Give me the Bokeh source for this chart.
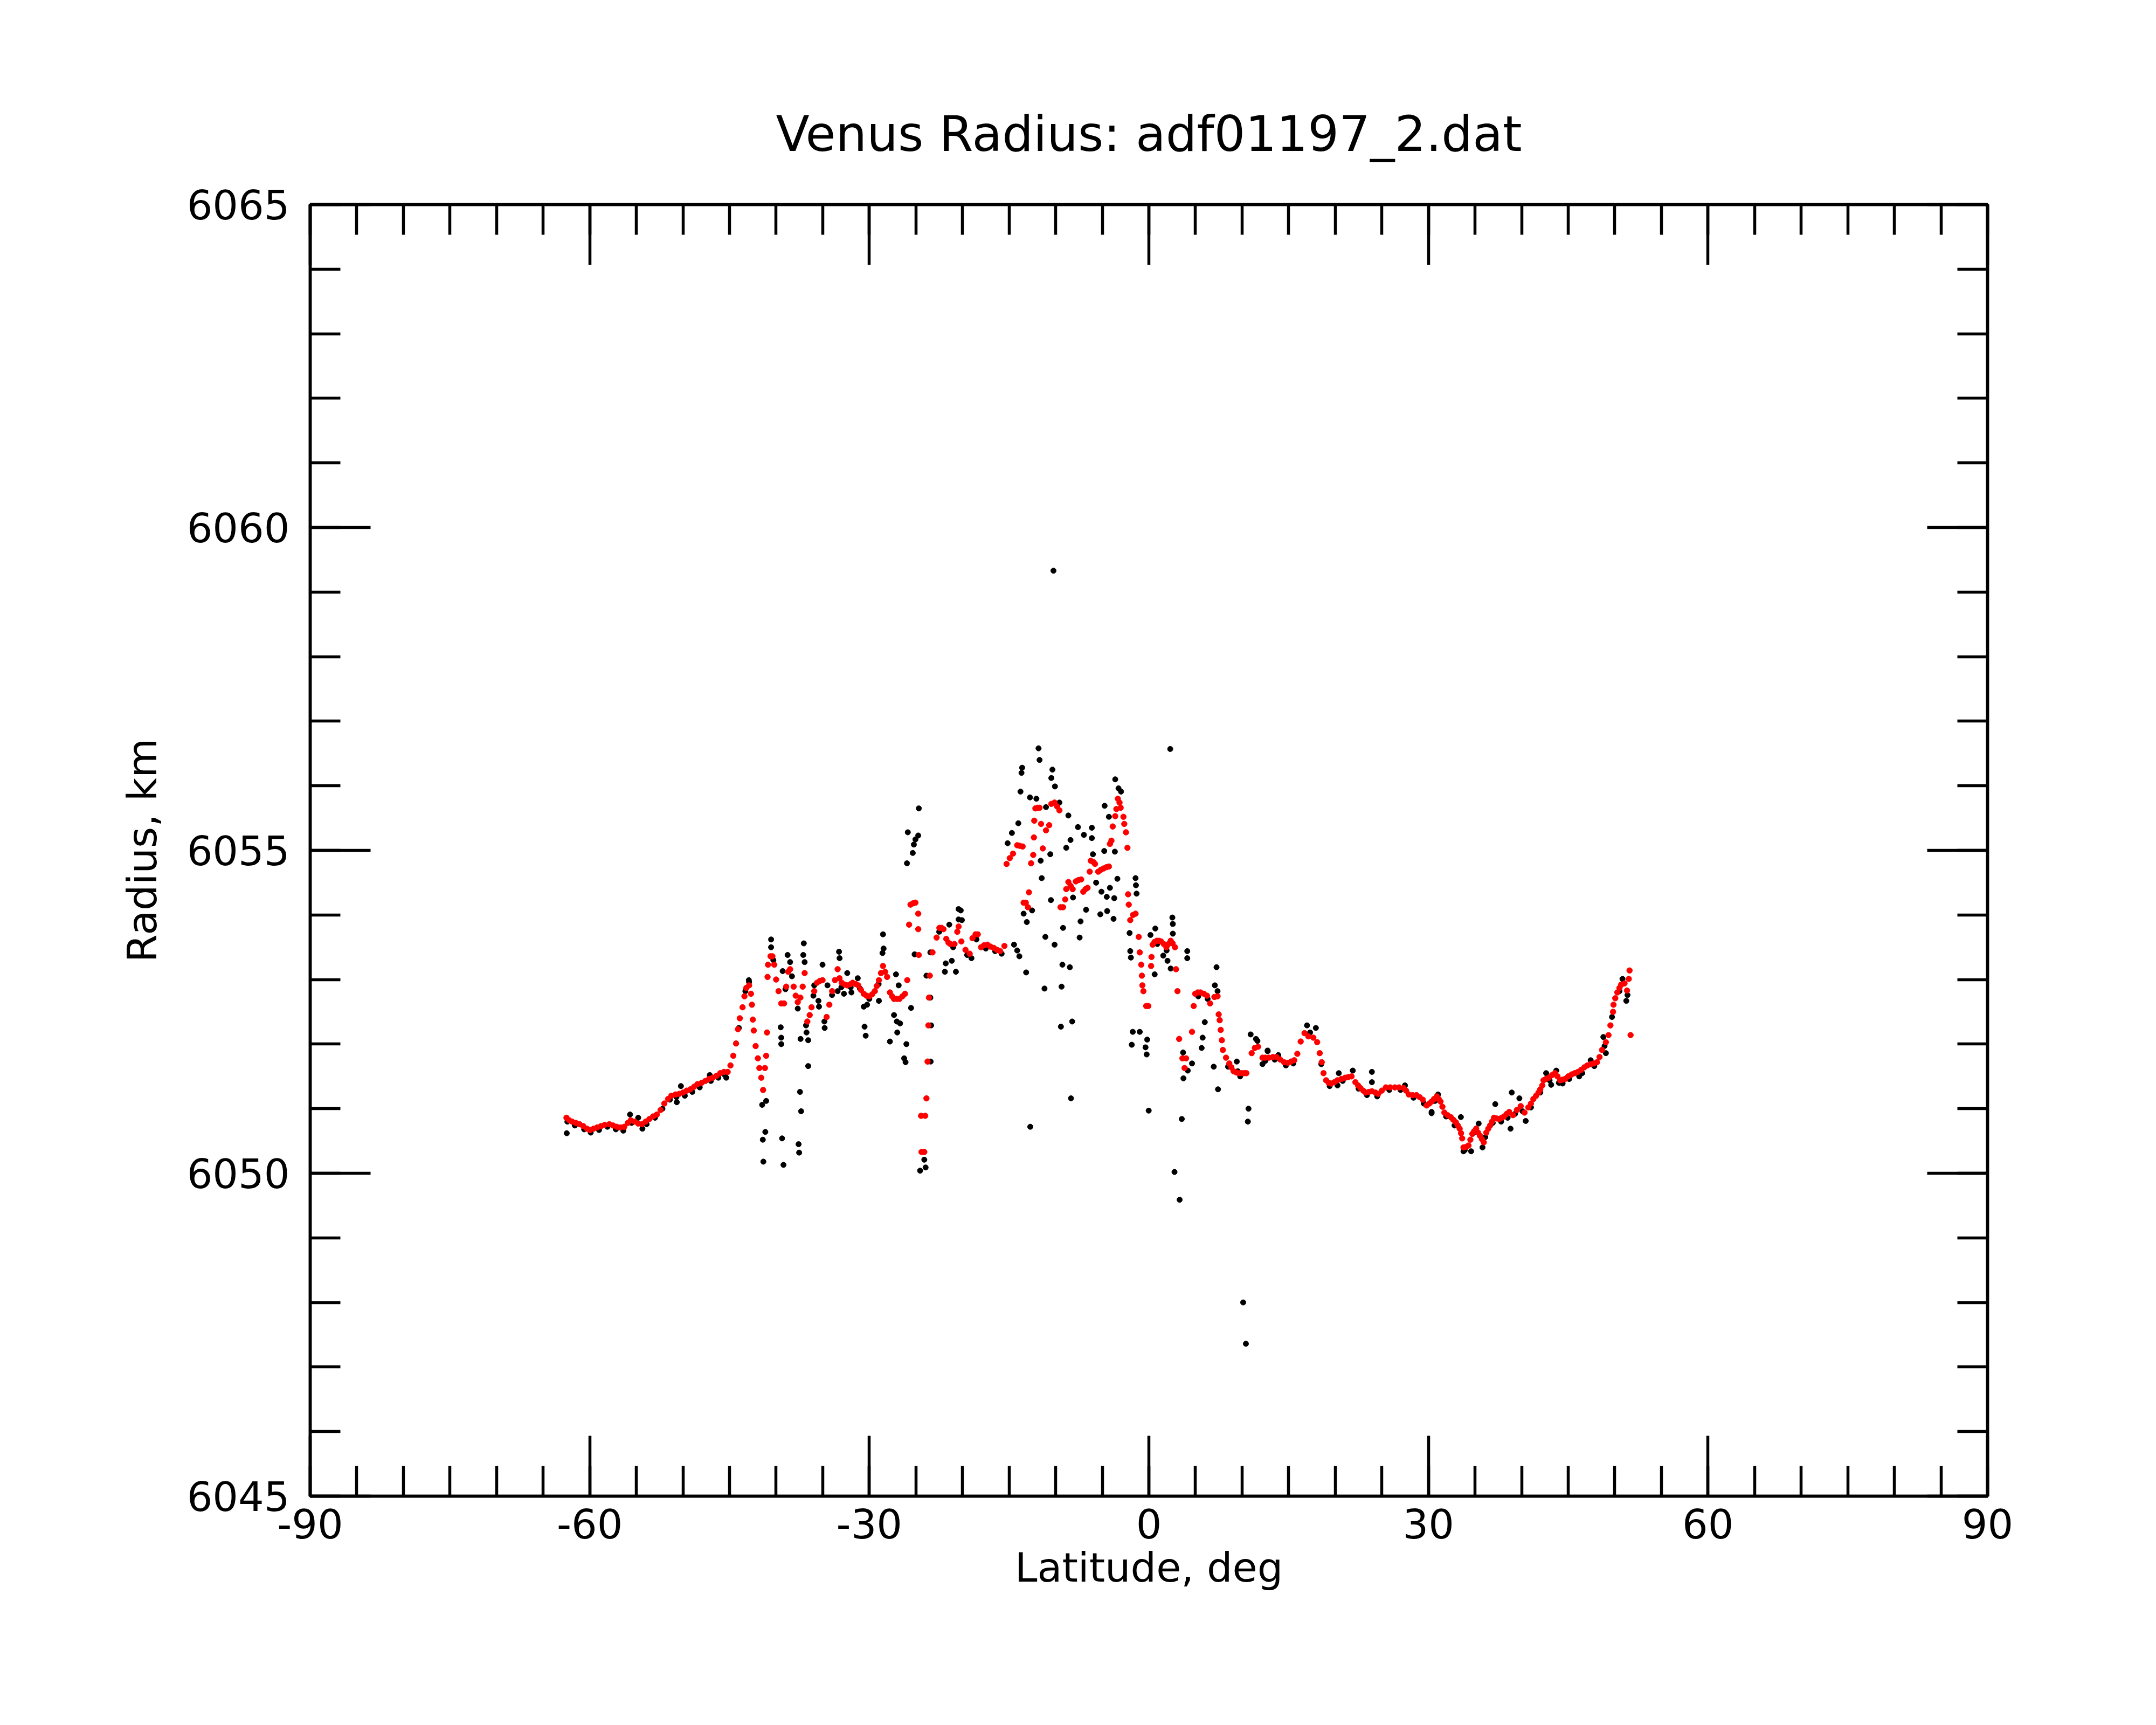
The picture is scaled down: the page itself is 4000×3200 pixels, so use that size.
from bokeh.plotting import figure
from bokeh.models import Range1d, LinearAxis, FixedTicker, CustomLabelingPolicy
from bokeh.embed import file_html
from bokeh.resources import INLINE

# ---------------- data ----------------
title_text = "Venus Radius: adf01197_2.dat"
x_label = "Latitude, deg"
y_label = "Radius, km"

x_major = [-90, -60, -30, 0, 30, 60, 90]
x_major_labels = ["-90", "-60", "-30", "0", "30", "60", "90"]
x_minor = [v for v in range(-90, 91, 5)]
y_major = [6045, 6050, 6055, 6060, 6065]
y_major_labels = ["6045", "6050", "6055", "6060", "6065"]
y_minor = [v for v in range(6045, 6066, 1)]

# red (filtered) profile
red_lat = [
    -62.5, -62.2, -61.9, -61.5, -61.1, -60.7, -60.3, -59.96, -59.6, -59.2, -58.8, -58.4, -57.9, -57.5,
    -57.1, -56.7, -56.3, -55.9, -55.6, -55.2, -54.8, -54.4, -54.0, -53.6, -53.2, -52.8, -52.4, -52.0,
    -51.6, -51.25, -50.8, -50.4, -50.0, -49.6, -49.2, -48.8, -48.45, -48.0, -47.6, -47.2, -46.8, -46.4,
    -46.0, -45.6, -45.2, -44.9, -44.6, -44.3, -44.1, -43.9, -43.6, -43.4, -43.2, -42.9, -42.7, -42.6,
    -42.5, -42.4, -42.2, -41.96, -41.8, -41.6, -41.4, -41.2, -41.07, -40.98, -40.92, -40.87, -40.6, -40.4,
    -40.2, -40.0, -39.74, -39.45, -39.15, -38.92, -38.7, -38.5, -38.12, -37.9, -37.68, -37.4, -37.15, -36.94,
    -36.65, -36.4, -36.2, -35.91, -35.61, -35.3, -35.02, -34.58, -34.29, -33.99, -33.69, -33.40, -33.2, -32.96,
    -32.6, -32.37, -32.0, -31.78, -31.45, -31.19, -30.9, -30.6, -30.3, -30.0, -29.7, -29.41, -29.2, -28.97,
    -28.75, -28.53, -28.3, -28.09, -27.79, -27.55, -27.35, -27.05, -26.76, -26.45, -26.17, -25.93, -25.73, -25.58,
    -25.3, -25.05, -24.75, -24.75, -24.69, -24.45, -24.0, -24.4, -24.1, -23.87, -23.75, -23.66, -23.6, -23.51,
    -23.22, -22.78, -22.48, -22.25, -22.04, -21.74, -21.5, -21.3, -20.86, -20.56, -20.42, -20.12, -19.68, -19.23,
    -18.93, -18.6, -18.36, -18.01, -17.7, -17.33, -17.0, -16.64, -16.3, -15.96, -15.5,
    -15.27, -14.93, -14.58, -14.13, -13.85, -13.55, -13.44, -13.21, -12.98, -12.87, -12.64, -12.41, -12.34, -12.3,
    -12.18, -11.95, -11.73, -11.57, -11.38, -11.04, -10.7, -10.47, -10.12, -9.85, -9.6, -9.48, -9.21, -8.98,
    -8.87, -8.64, -8.4, -8.18, -7.84, -7.55, -7.27, -7.04, -6.8, -6.58, -6.35, -6.24, -5.95, -5.78,
    -5.44, -5.15, -4.86, -4.55, -4.29, -4.18, -4.02, -3.88, -3.61, -3.49, -3.33, -3.15, -3.03, -2.73,
    -2.64, -2.46, -2.3, -2.23, -2.16, -2.0, -1.7, -1.43, -1.09, -0.98, -0.82, -0.75, -0.7, -0.59,
    -0.29, -0.06, 0.24, 0.28, 0.4, 0.6, 0.85, 1.1, 1.31, 1.6, 1.88, 2.1, 2.34, 2.55,
    2.8, 2.91, 3.07, 3.25, 3.6, 3.83, 3.99, 4.63, 4.81, 4.97, 5.25, 5.54, 5.9, 6.23,
    6.57, 7.03, 7.37, 7.49, 7.6, 7.71, 7.83, 7.94, 8.28, 8.63, 8.85, 9.09, 9.4, 9.66,
    10.0, 10.25, 10.46, 11.03, 11.37, 11.72, 12.19, 12.5, 12.87, 13.3, 13.69, 14.1, 14.51, 14.92,
    15.25, 15.60, 15.93, 16.29, 16.70, 17.11, 17.65, 18.06, 18.33, 18.55, 18.74, 19.02, 19.3, 19.56,
    19.9, 20.24, 20.65, 21.06, 21.4, 21.75, 22.16, 22.45, 22.7, 23.0, 23.25, 23.6, 23.93, 24.3,
    24.61, 25.0, 25.43, 25.9, 26.39, 26.85, 27.34, 27.6, 27.89, 28.3, 28.71, 29.05, 29.39, 29.8,
    30.1, 30.34, 30.6, 30.89, 31.1, 31.3, 31.5, 31.71, 32.05, 32.39, 32.65, 32.94, 33.15, 33.35,
    33.5, 33.62, 33.76, 34.05, 34.3, 34.5, 34.71, 34.9, 35.12, 35.32, 35.53, 35.74, 35.94, 36.21,
    36.42, 36.62, 36.82, 37.03, 37.3, 37.58, 37.85, 38.12, 38.4, 38.67, 39.08, 39.49, 39.9, 40.31,
    40.72, 41.0, 41.26, 41.55, 41.81, 42.0, 42.22, 42.35, 42.6, 42.9, 43.25, 43.58, 43.85, 44.13,
    44.4, 44.67, 45.0, 45.36, 45.7, 46.04, 46.38, 46.72, 47.05, 47.41, 47.75, 48.09, 48.36, 48.63,
    49.04, 49.32, 49.53, 49.81, 49.86, 50.05, 50.27, 50.5, 50.68, 51.04, 51.31, 51.5, 51.58, 51.69,
]
red_rad = [
    6050.86, 6050.82, 6050.80, 6050.78, 6050.76, 6050.73, 6050.69, 6050.67, 6050.69, 6050.71, 6050.73, 6050.75, 6050.76, 6050.74,
    6050.72, 6050.71, 6050.72, 6050.78, 6050.82, 6050.80, 6050.77, 6050.76, 6050.80, 6050.84, 6050.88, 6050.91, 6050.98, 6051.08,
    6051.15, 6051.20, 6051.22, 6051.23, 6051.25, 6051.28, 6051.30, 6051.34, 6051.38, 6051.40, 6051.43, 6051.46, 6051.48, 6051.51,
    6051.55, 6051.57, 6051.57, 6051.67, 6051.82, 6052.01, 6052.23, 6052.40, 6052.57, 6052.74, 6052.87, 6052.91, 6052.78, 6052.61,
    6052.38, 6052.21, 6051.97, 6051.78, 6051.63, 6051.48, 6051.29, 6051.63, 6051.82, 6052.18, 6053.04, 6053.23, 6053.36, 6053.36,
    6053.23, 6053.00, 6052.82, 6052.63, 6052.63, 6052.89, 6053.12, 6053.16, 6052.89, 6052.75, 6052.65, 6052.72, 6052.89, 6053.10,
    6052.35, 6052.45, 6052.57, 6052.82, 6052.95, 6052.98, 6052.99, 6052.42, 6052.61, 6052.82, 6052.99, 6053.16, 6053.02, 6052.95,
    6052.92, 6052.91, 6052.93, 6052.95, 6052.93, 6052.91, 6052.84, 6052.78, 6052.75, 6052.74, 6052.77, 6052.82, 6052.90, 6052.99,
    6053.10, 6053.21, 6053.12, 6053.04, 6052.80, 6052.74, 6052.70, 6052.70, 6052.70, 6052.74, 6052.78, 6052.99, 6053.85, 6054.16,
    6054.18, 6054.19, 6054.02, 6053.78, 6053.38, 6050.89, 6050.89, 6050.33, 6050.33, 6051.16, 6051.73, 6052.29, 6052.72, 6053.06,
    6053.42, 6053.65, 6053.80, 6053.80, 6053.78, 6053.63, 6053.57, 6053.55, 6053.55, 6053.74, 6053.82, 6053.59, 6053.46, 6053.40,
    6053.64, 6053.70, 6053.70, 6053.50, 6053.53, 6053.54, 6053.51, 6053.49, 6053.46, 6053.44, 6053.52,
    6054.79, 6054.88, 6054.95, 6055.08, 6055.07, 6055.06, 6054.19, 6054.19, 6054.12, 6054.35, 6054.80, 6054.93, 6055.20, 6055.46,
    6055.65, 6055.66, 6055.66, 6055.41, 6055.03, 6055.31, 6055.39, 6055.72, 6055.74, 6055.68, 6055.62, 6054.12, 6054.12, 6054.24,
    6054.40, 6054.51, 6054.45, 6054.40, 6054.52, 6054.54, 6054.55, 6054.36, 6054.40, 6054.42, 6054.67, 6054.84, 6054.82, 6054.79,
    6054.67, 6054.70, 6054.72, 6054.74, 6054.75, 6055.10, 6055.15, 6055.37, 6055.53, 6055.64, 6055.80, 6055.74, 6055.66, 6055.52,
    6055.41, 6055.28, 6055.04, 6054.32, 6054.16, 6053.92, 6054.00, 6054.02, 6053.66, 6053.42, 6053.23, 6053.06, 6052.91, 6052.82,
    6052.59, 6052.59, 6053.21, 6053.35, 6053.54, 6053.58, 6053.60, 6053.60, 6053.59, 6053.55, 6053.50, 6053.55, 6053.60, 6053.56,
    6053.50, 6053.16, 6052.82, 6052.08, 6051.78, 6051.63, 6051.78, 6052.19, 6052.59, 6052.78, 6052.80, 6052.80, 6052.78, 6052.75,
    6052.63, 6052.73, 6052.74, 6052.46, 6052.37, 6052.22, 6052.06, 6051.91, 6051.79, 6051.70, 6051.64, 6051.58, 6051.56, 6051.55,
    6051.55, 6051.55, 6051.55, 6051.86, 6051.94, 6051.96, 6051.79, 6051.79, 6051.79, 6051.80, 6051.80, 6051.76, 6051.72, 6051.71,
    6051.73, 6051.75, 6051.85, 6052.04, 6052.17, 6052.12, 6052.10, 6052.03, 6051.86, 6051.72, 6051.55, 6051.44, 6051.40, 6051.39,
    6051.41, 6051.44, 6051.46, 6051.48, 6051.49, 6051.50, 6051.41, 6051.36, 6051.32, 6051.28, 6051.25, 6051.26, 6051.27, 6051.25,
    6051.23, 6051.28, 6051.33, 6051.33, 6051.33, 6051.33, 6051.32, 6051.28, 6051.22, 6051.21, 6051.21, 6051.18, 6051.14, 6051.05,
    6051.08, 6051.11, 6051.15, 6051.19, 6051.15, 6051.11, 6051.03, 6050.94, 6050.90, 6050.87, 6050.83, 6050.79, 6050.74, 6050.69,
    6050.62, 6050.54, 6050.40, 6050.41, 6050.43, 6050.52, 6050.61, 6050.65, 6050.69, 6050.63, 6050.58, 6050.53, 6050.48, 6050.63,
    6050.69, 6050.74, 6050.80, 6050.86, 6050.85, 6050.84, 6050.86, 6050.88, 6050.92, 6050.95, 6050.90, 6050.98, 6051.04, 6050.94,
    6051.02, 6051.08, 6051.15, 6051.20, 6051.25, 6051.30, 6051.36, 6051.44, 6051.46, 6051.48, 6051.52, 6051.55, 6051.50, 6051.44,
    6051.45, 6051.46, 6051.50, 6051.53, 6051.55, 6051.57, 6051.60, 6051.64, 6051.67, 6051.69, 6051.70, 6051.72, 6051.80, 6051.91,
    6052.03, 6052.14, 6052.29, 6052.50, 6052.61, 6052.71, 6052.80, 6052.87, 6052.92, 6052.94, 6052.83, 6053.01, 6053.14, 6052.14,
]

# black (raw) measurements
blk_lat = [
    -62.47, -55.68, -54.8, -54.35, -50.66, -50.22, -47.12, -45.35, -42.93, -41.5, -41.07, -41.16, -41.43, -41.37,
    -40.54, -40.54, -39.3, -39.51, -39.45, -39.45, -39.36, -39.21, -38.77, -38.5, -37.68, -37.38, -37.44, -37.32,
    -37.59, -37.53, -37.03, -37.09, -36.94, -36.79, -36.74, -36.56, -36.56, -35.91, -35.46, -35.4, -35.02, -34.79,
    -34.82, -34.49, -33.4, -33.25, -33.19, -32.72, -32.37, -31.92, -31.24, -30.51, -30.39, -30.6, -30.24, -28.97,
    -28.59, -28.47, -28.53, -27.79, -27.14, -26.85, -27.35, -27.05, -26.7, -27.0, -26.02, -26.26, -26.11, -25.52,
    -25.87, -25.96, -25.34, -25.22, -25.05, -24.75, -24.69, -25.14, -24.55, -23.96, -24.1, -23.42, -23.37, -23.45,
    -23.87, -23.45, -21.89, -21.8, -21.42, -20.42, -20.42, -20.71, -21.15,
    -20.19, -20.07, -19.04, -14.47, -14.13, -13.9, -13.17, -13.78, -13.67, -13.6, -14.01, -14.7, -15.16, -13.44,
    -13.1, -12.53, -12.76, -12.07, -11.84, -11.73, -11.5, -11.61, -11.2, -11.11, -11.04, -10.58, -10.51, -10.47,
    -10.35, -10.08, -10.12, -9.44, -9.37, -9.28, -9.21, -9.6, -8.87, -8.64, -8.48, -8.36, -8.23, -8.41,
    -8.14, -7.61, -7.33, -7.43, -6.97, -6.74, -6.12, -6.12, -6.0, -5.66, -5.21, -5.09, -4.79, -4.52,
    -4.48, -4.18, -3.79, -3.72, -3.65, -4.75, -4.29, -3.61, -3.26, -2.99, -3.38, -2.07, -2.0, -1.93,
    -1.73, -0.98, -1.84, -1.43, -1.39, -1.32, -0.18, -0.36, -0.24, -0.02, 0.17, 0.69, 0.62, 1.54,
    2.0, 2.29, 2.52, 2.57, 2.57, 2.34, 4.12, 4.12, 3.53, 2.75, 3.3, 3.67, 3.71, 4.17,
    4.63, 5.66, 5.77, 6.0, 6.96, 7.42, 7.26, 7.08, 7.37, 9.43, 9.54, 10.69, 10.62, 10.92,
    11.49, 12.75, 13.89, -10.24, 10.12, 10.41, -12.73,
    11.65, 12.74, 12.19, 16.97, 17.92, 20.38, 21.88, 23.93, 23.93, 20.24, 27.48, 30.34, 30.34, 31.03,
    33.48, 33.76, 34.58, 35.39, 35.8, 37.17, 38.81, 38.94, 39.76, 40.44, 42.63, 43.72, 43.17, 44.4,
    46.18, 47.41, 48.77, 49.04, 50.82, 51.23, 51.36,
    -62.4, -61.6, -60.6, -59.9, -59.0, -58.1, -57.2, -56.4, -55.5, -53.9, -53.0, -52.2, -51.4, -50.7,
    -49.8, -49.0, -48.2, -47.0, -46.2, -45.5, -44.0, -43.3, -42.9,
    12.5, 13.5, 14.7, 15.5, 17.3, 18.5, 19.4, 20.8, 22.5, 23.4, 24.5, 25.8, 27.0, 28.4,
    29.5, 30.7, 31.9, 32.8, 33.9, 35.0, 36.1, 36.9, 37.8, 38.5, 39.3, 40.1, 41.0, 42.0,
    43.0, 44.0, 45.1, 46.5, 47.8, 48.9, 49.7, 50.5,
    -40.3, -39.0, -38.3, -36.0, -34.0, -33.0, -32.0, -31.0, -30.0, -29.0, -22.5, -21.0, -19.5, -18.5,
    -17.5, -16.5, -15.8, 0.9, 1.9, 5.3, 6.3, 8.5, 9.8,
]
blk_rad = [
    6050.62, 6050.91, 6050.86, 6050.69, 6051.10, 6051.35, 6051.52, 6051.48, 6052.99, 6051.06, 6051.12, 6050.64, 6050.52, 6050.18,
    6053.62, 6053.50, 6053.13, 6052.26, 6052.10, 6052.00, 6050.54, 6050.13, 6053.38, 6053.27, 6052.55, 6052.08, 6051.26, 6050.96,
    6050.45, 6050.32, 6053.56, 6053.38, 6053.27, 6052.29, 6052.18, 6052.06, 6051.66, 6052.91, 6052.67, 6052.58, 6053.23, 6052.25,
    6052.35, 6052.91, 6052.82, 6053.43, 6053.33, 6052.78, 6053.10, 6052.80, 6053.02, 6052.27, 6052.13, 6052.58, 6052.61, 6052.67,
    6053.41, 6053.48, 6053.70, 6052.04, 6053.08, 6052.91, 6052.45, 6052.35, 6052.32, 6052.18, 6052.00, 6051.78, 6051.72, 6052.56,
    6055.28, 6054.80, 6054.96, 6055.09, 6055.17, 6055.23, 6055.65, 6053.39, 6050.04, 6050.09, 6050.21, 6051.73, 6052.29, 6052.72,
    6053.06, 6053.42, 6053.12, 6053.25, 6053.85, 6054.09, 6053.93, 6053.12, 6053.29,
    6054.07, 6053.92, 6053.33, 6053.54, 6053.45, 6053.36, 6053.11, 6055.91, 6056.20, 6056.28, 6055.42, 6055.27, 6055.11, 6054.02,
    6053.89, 6054.07, 6055.82, 6055.80, 6056.58, 6056.40, 6054.57, 6054.84, 6052.86, 6053.66, 6055.67, 6054.94, 6054.23, 6056.12,
    6056.25, 6055.99, 6053.54, 6052.27, 6052.89, 6053.23, 6053.80, 6055.74, 6055.04, 6055.54, 6053.19, 6051.16, 6052.35, 6055.16,
    6054.27, 6055.36, 6053.90, 6053.65, 6055.24, 6054.08, 6055.35, 6055.19, 6054.94, 6054.50, 6054.01, 6054.36, 6054.99, 6054.28,
    6054.06, 6054.42, 6053.94, 6054.26, 6054.98, 6055.69, 6055.52, 6056.10, 6055.96, 6055.91, 6054.56, 6053.72, 6053.44, 6053.34,
    6052.19, 6052.19, 6051.99, 6054.57, 6054.46, 6054.33, 6052.07, 6051.95, 6051.84, 6050.97, 6053.69, 6053.79, 6053.08, 6053.37,
    6053.29, 6056.57, 6053.96, 6053.86, 6053.71, 6053.17, 6053.44, 6053.33, 6050.84, 6050.02, 6049.59, 6051.87, 6051.47, 6051.59,
    6051.70, 6051.94, 6052.10, 6052.34, 6051.65, 6051.30, 6053.19, 6052.91, 6052.82, 6051.73, 6051.58, 6051.00, 6050.80, 6052.15,
    6052.08, 6051.89, 6051.83, 6059.33, 6048.00, 6047.36, 6050.72,
    6052.05, 6051.90, 6051.69, 6052.29, 6052.25, 6051.55, 6051.59, 6051.57, 6051.41, 6051.36, 6051.36, 6050.95, 6050.93, 6051.22,
    6050.87, 6050.34, 6050.34, 6050.77, 6050.40, 6051.07, 6050.69, 6051.25, 6051.16, 6050.81, 6051.55, 6051.59, 6051.37, 6051.39,
    6051.50, 6051.75, 6052.11, 6051.86, 6053.01, 6052.67, 6052.76,
    6050.80, 6050.74, 6050.68, 6050.63, 6050.67, 6050.72, 6050.68, 6050.66, 6050.78, 6050.76, 6050.86, 6051.00, 6051.14, 6051.18,
    6051.20, 6051.26, 6051.33, 6051.43, 6051.48, 6051.52, 6052.25, 6052.82, 6052.96,
    6051.74, 6051.76, 6051.67, 6051.70, 6052.18, 6051.69, 6051.35, 6051.43, 6051.31, 6051.21, 6051.19, 6051.29, 6051.29, 6051.17,
    6051.08, 6051.12, 6050.88, 6050.74, 6050.36, 6050.64, 6050.56, 6050.78, 6050.80, 6050.86, 6050.92, 6050.96, 6051.02, 6051.25,
    6051.44, 6051.40, 6051.46, 6051.55, 6051.66, 6051.97, 6052.42, 6052.82,
    6053.30, 6052.85, 6053.05, 6052.75, 6052.76, 6052.88, 6052.88, 6052.86, 6052.70, 6052.93, 6053.74, 6053.50, 6053.38, 6053.62,
    6053.48, 6053.44, 6053.40, 6053.55, 6053.45, 6052.74, 6052.70, 6051.65, 6051.50,
]

# ---------------- figure ----------------
FONT = "DejaVu Sans"
LW = 5.5

p = figure(
    width=3980, height=3180,
    output_backend="svg", toolbar_location=None,
    x_range=Range1d(-90, 90), y_range=Range1d(6045, 6065),
    min_border_left=575, min_border_right=293, min_border_top=379, min_border_bottom=405,
    background_fill_color="white", border_fill_color="white",
    x_axis_label=x_label, y_axis_label=y_label,
)
p.grid.visible = False
p.outline_line_color = "black"
p.outline_line_width = LW

p.title.text = title_text
p.title.align = "center"
p.title.text_font = FONT
p.title.text_font_size = "91px"
p.title.text_font_style = "normal"
p.title.text_color = "black"
p.title.standoff = 42

bottom = p.below[0]
left = p.left[0]

xt = FixedTicker(ticks=x_major, minor_ticks=x_minor)
yt = FixedTicker(ticks=y_major, minor_ticks=y_minor)

# labels are drawn only on the bottom and left axes; top/right axes carry ticks only
no_labels_code = """
try {
    return new indices.constructor(indices.size, 0)
} catch (e) {
    for (const i of Array.from(indices)) { indices.unset(i) }
    return indices
}
"""
top = LinearAxis(ticker=xt, major_label_policy=CustomLabelingPolicy(code=no_labels_code))
right = LinearAxis(ticker=yt, major_label_policy=CustomLabelingPolicy(code=no_labels_code))
p.add_layout(top, "above")
p.add_layout(right, "right")

bottom.ticker = xt
left.ticker = yt
bottom.major_label_overrides = dict(zip(x_major, x_major_labels))
left.major_label_overrides = dict(zip(y_major, y_major_labels))

for ax in [bottom, left, top, right]:
    ax.axis_line_color = "black"
    ax.axis_line_width = LW
    ax.major_tick_line_color = "black"
    ax.major_tick_line_width = LW
    ax.minor_tick_line_color = "black"
    ax.minor_tick_line_width = LW
    ax.major_tick_in = 112
    ax.major_tick_out = 0
    ax.minor_tick_in = 56
    ax.minor_tick_out = 0
    ax.major_label_text_font = FONT
    ax.major_label_text_font_size = "75px"
    ax.major_label_text_color = "black"
    ax.axis_label_text_font = FONT
    ax.axis_label_text_font_size = "75px"
    ax.axis_label_text_font_style = "normal"
    ax.axis_label_text_color = "black"

top.major_label_standoff = 0
right.major_label_standoff = 0

bottom.major_label_standoff = 23
bottom.axis_label_standoff = 7
left.major_label_standoff = 38
left.axis_label_standoff = 36

p.scatter(blk_lat, blk_rad, size=10, marker="circle", color="black")
p.scatter(red_lat, red_rad, size=10.5, marker="circle", color="red")

open("out.html", "w").write(file_html(p, INLINE))
